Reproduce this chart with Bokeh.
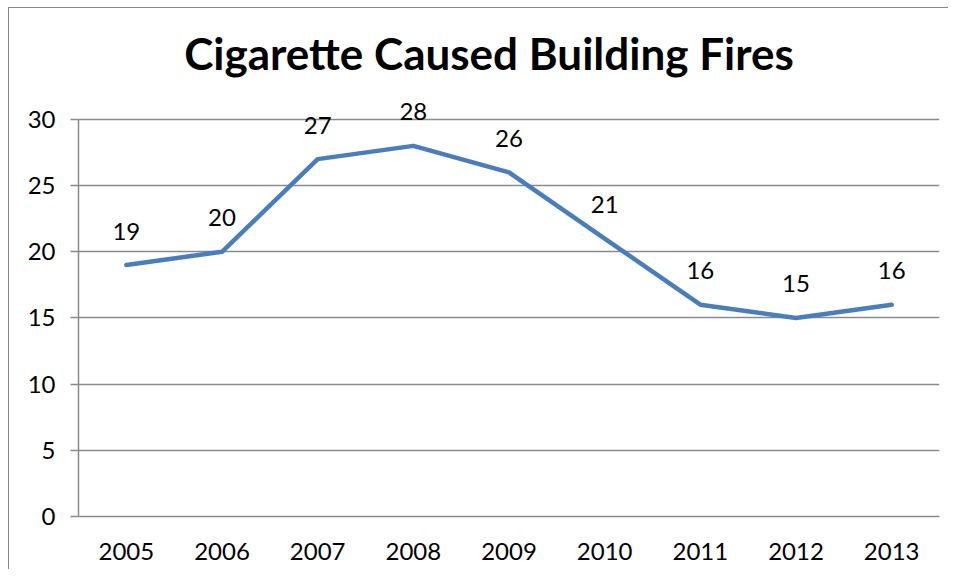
from bokeh.plotting import figure
from bokeh.models import ColumnDataSource, Label, FactorRange, Range1d, FixedTicker
from bokeh.embed import file_html
from bokeh.resources import INLINE

years = ["2005", "2006", "2007", "2008", "2009", "2010", "2011", "2012", "2013"]
fires = [19, 20, 27, 28, 26, 21, 16, 15, 16]
y_ticks = [0, 5, 10, 15, 20, 25, 30]
title_text = "Cigarette Caused Building Fires"

FONT = "Lato"
GRAY = "#8a8a8a"

src = ColumnDataSource(dict(year=years, fires=fires))

# The frame reaches almost to the top of the figure so that the title and
# data labels (drawn as annotations) are not clipped; axis and grid stop at 30.
p = figure(width=940, height=562, x_range=FactorRange(*years), y_range=Range1d(0, 38),
           output_backend="svg", toolbar_location=None,
           min_border_left=69, min_border_right=10, min_border_top=5, min_border_bottom=54)
p.border_fill_color = "white"
p.styles = {"margin-left": "8px", "margin-top": "7px",
            "border-left": "1px solid #888888", "border-top": "1px solid #888888"}

p.line("year", "fires", source=src, line_color="#4A7EBB", line_width=4.5,
       line_join="round", line_cap="round")

for i, v in enumerate(fires):
    p.add_layout(Label(x=i + 0.5, y=v, text=str(v), y_offset=34,
                       text_align="center", text_baseline="middle", text_font=FONT,
                       text_font_size="24px", text_color="black"))

# chart title, placed above the top of the value axis
p.add_layout(Label(x=len(years) / 2, y=max(y_ticks), text=title_text,
                   x_offset=-20, y_offset=66, text_align="center",
                   text_baseline="alphabetic", text_font=FONT, text_font_size="44px",
                   text_font_style="bold", text_color="black"))

p.outline_line_color = None
p.xgrid.grid_line_color = None
p.ygrid.grid_line_color = GRAY
p.ygrid.grid_line_width = 1.5
p.ygrid.ticker = FixedTicker(ticks=y_ticks)

p.yaxis.ticker = FixedTicker(ticks=y_ticks)
p.yaxis.bounds = (0, 30)
p.yaxis.axis_line_color = GRAY
p.yaxis.axis_line_width = 1.5
p.yaxis.major_tick_line_color = GRAY
p.yaxis.major_tick_line_width = 1.5
p.yaxis.major_tick_out = 8
p.yaxis.major_tick_in = 0
p.yaxis.minor_tick_line_color = None
p.yaxis.major_label_standoff = 15
p.yaxis.major_label_text_font = FONT
p.yaxis.major_label_text_font_size = "24px"
p.yaxis.major_label_text_color = "black"

p.xaxis.axis_line_color = GRAY
p.xaxis.axis_line_width = 1.5
p.xaxis.major_tick_line_color = None
p.xaxis.major_tick_out = 0
p.xaxis.major_tick_in = 0
p.xaxis.minor_tick_line_color = None
p.xaxis.major_label_standoff = 26
p.xaxis.major_label_text_font = FONT
p.xaxis.major_label_text_font_size = "24px"
p.xaxis.major_label_text_color = "black"

open("out.html", "w").write(file_html(p, INLINE))
